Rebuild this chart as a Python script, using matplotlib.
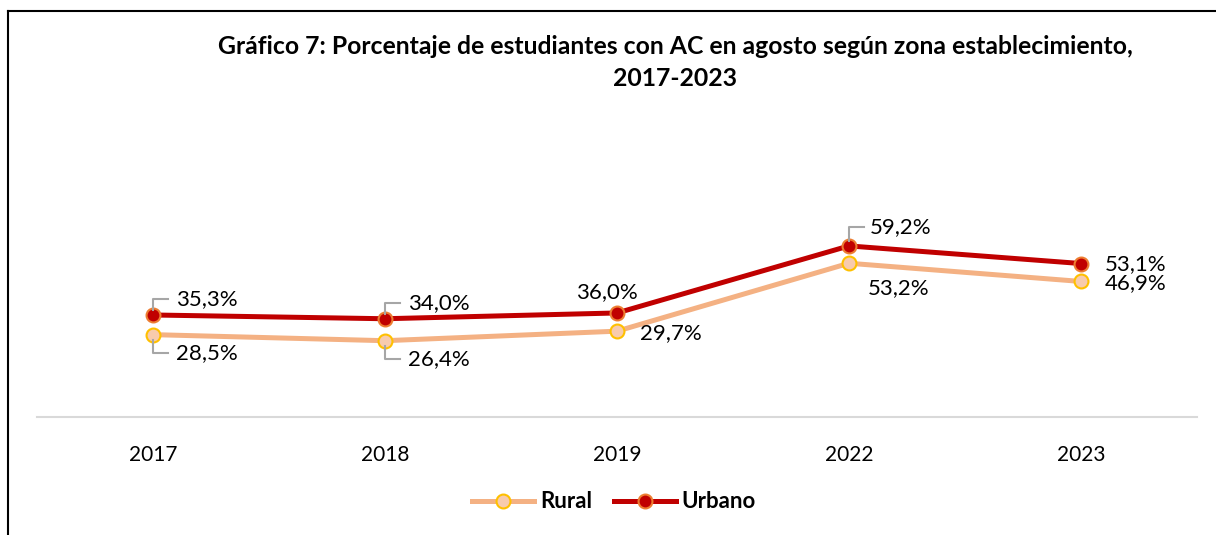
import numpy as np
import matplotlib
matplotlib.use("Agg")
from matplotlib import pyplot as plt
from matplotlib.lines import Line2D

plt.rcParams['font.family'] = ['Lato', 'DejaVu Sans']

# datos
years = ["2017", "2018", "2019", "2022", "2023"]
rural = [28.5, 26.4, 29.7, 53.2, 46.9]
urbano = [35.3, 34.0, 36.0, 59.2, 53.1]

# posiciones de etiquetas (px): dx, dy, ha, con guia
rural_lbl = [(23, -18, 'left', True), (23, -18, 'left', True), (23, -2, 'left', False),
             (19, -25, 'left', False), (24, -2, 'left', False)]
urb_lbl = [(23, 16, 'left', True), (23, 16, 'left', True), (-10, 21, 'center', False),
           (21, 19, 'left', True), (24, -1, 'left', False)]

W, H = 1216, 535
fig = plt.figure(figsize=(W / 100, H / 100), dpi=100)
ax = fig.add_axes([37 / W, (H - 417) / H, 1160 / W, 289 / H])

x = np.arange(len(years))
ax.plot(x, rural, color="#F4B183", lw=3.6, marker="o", ms=10,
        mfc="#F8CBAD", mec="#FFC000", mew=1.5, label="Rural", zorder=3)
ax.plot(x, urbano, color="#C00000", lw=3.6, marker="o", ms=10,
        mfc="#C00000", mec="#ED7D31", mew=1.5, label="Urbano", zorder=4)

ax.set_xlim(-0.5, len(years) - 0.5)
ax.set_ylim(0, 100)
ax.set_yticks([])
ax.set_xticks(x)
ax.set_xticklabels(years, fontsize=15)
ax.tick_params(axis="x", length=0, pad=20)
for s in ["top", "right", "left"]:
    ax.spines[s].set_visible(False)
ax.spines["bottom"].set_color("#D9D9D9")
ax.spines["bottom"].set_linewidth(1.5)


def etiquetas(vals, specs):
    for i, v in enumerate(vals):
        dx, dy, ha, guia = specs[i]
        ax.annotate(f"{v:.1f}".replace(".", ",") + "%", (i, v), xytext=(dx, dy),
                    textcoords="offset pixels", ha=ha, va="center", fontsize=16,
                    color="#000000", zorder=6)
        if guia:
            px, py = ax.transData.transform((i, v))
            sg = 1 if dy > 0 else -1
            xs = [px, px, px + 15]
            ys = [py + 5 * sg, py + dy, py + dy]
            fig.add_artist(Line2D(xs, ys, transform=None, color="#A6A6A6", lw=1.5,
                                  zorder=5))


etiquetas(rural, rural_lbl)
etiquetas(urbano, urb_lbl)

fig.text(675 / W, 1 - 47 / H, "Gráfico 7: Porcentaje de estudiantes con AC en agosto según zona establecimiento,",
         ha="center", va="center", fontsize=17.8, fontweight="bold")
fig.text(675 / W, 1 - 78 / H, "2017-2023", ha="center", va="center", fontsize=17.8,
         fontweight="bold")

fig.legend(loc="center", bbox_to_anchor=(614 / W, 1 - 502 / H), ncol=2, frameon=False,
           prop={"size": 16, "weight": "bold"}, handlelength=2.8, columnspacing=1.0,
           handletextpad=0.25)

# marco
fig.add_artist(Line2D([8 / W, 1], [1 - 11 / H, 1 - 11 / H], transform=fig.transFigure,
                      color="black", lw=1.5))
fig.add_artist(Line2D([8 / W, 8 / W], [0, 1 - 11 / H], transform=fig.transFigure,
                      color="black", lw=1.5))

fig.savefig("out.png", dpi=100, facecolor="white")
